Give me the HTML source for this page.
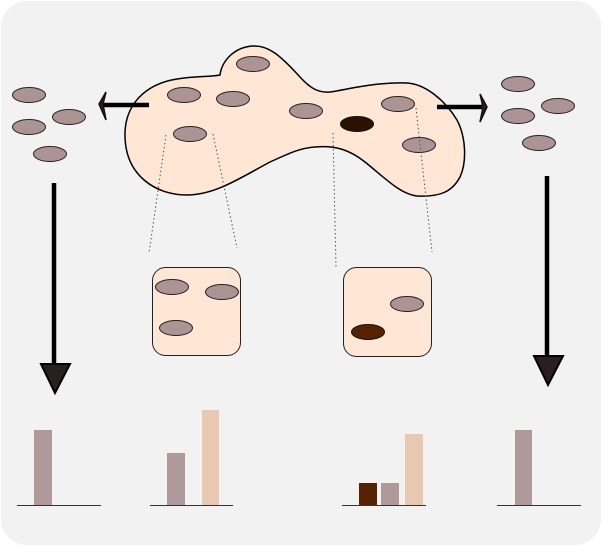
<!DOCTYPE html>
<html><head><meta charset="utf-8"><style>
html,body{margin:0;padding:0;background:#fff;}
svg{display:block;}
</style></head><body>
<svg width="602" height="547" viewBox="0 0 602 547" xmlns="http://www.w3.org/2000/svg">
<rect x="1" y="1" width="600" height="544" rx="26" ry="26" fill="#f2f2f2"/>
<!-- blob -->
<path d="M125,137 C124,105 145,84 177,79 C195,76 210,77 220,75 C222,60 235,47 253,46 C268,45 280,55 300,77 C310,88 318,93 330,92 C350,89 375,82 407,83 C425,84 445,100 457,120 C466,137 467,162 460,177 C452,192 440,197 417,196 C400,194 385,178 365,162 C350,150 335,145 315,147 C300,148 290,153 270,162 C240,178 215,195 187,195 C155,195 126,175 125,137 Z" fill="#ffe6d5" stroke="#000" stroke-width="1.5"/>
<g fill="#ac9494" stroke="#222" stroke-width="1">
<ellipse cx="253" cy="64" rx="16.5" ry="7.5"/>
<ellipse cx="184" cy="95" rx="16.5" ry="7.5"/>
<ellipse cx="233" cy="99" rx="16.5" ry="7.5"/>
<ellipse cx="190" cy="134" rx="16.5" ry="7.5"/>
<ellipse cx="306" cy="111" rx="16.5" ry="7.5"/>
<ellipse cx="398" cy="104" rx="16.5" ry="7.5"/>
<ellipse cx="419" cy="145" rx="16.5" ry="7.5"/>
<ellipse cx="29" cy="95" rx="16.5" ry="7.5"/>
<ellipse cx="69" cy="117" rx="16.5" ry="7.5"/>
<ellipse cx="29" cy="127" rx="16.5" ry="7.5"/>
<ellipse cx="50" cy="154" rx="16.5" ry="7.5"/>
<ellipse cx="518" cy="84" rx="16.5" ry="7.5"/>
<ellipse cx="558" cy="106" rx="16.5" ry="7.5"/>
<ellipse cx="518" cy="116" rx="16.5" ry="7.5"/>
<ellipse cx="539" cy="143" rx="16.5" ry="7.5"/>
</g>
<ellipse cx="357" cy="124" rx="16.5" ry="7.5" fill="#2b1100" stroke="#111" stroke-width="1"/>
<!-- dotted lines -->
<g stroke="#555" stroke-width="1" stroke-dasharray="1.5,2.5" fill="none">
<line x1="166" y1="135" x2="149" y2="253"/>
<line x1="213" y1="134" x2="237" y2="248"/>
<line x1="333" y1="133" x2="336" y2="267"/>
<line x1="416" y1="108" x2="432" y2="252"/>
</g>
<!-- horizontal arrows -->
<line x1="149" y1="105" x2="103" y2="105" stroke="#000" stroke-width="4.5"/>
<path d="M99,104 L106,92 L103,104 L106,120 Z" fill="#2a1f1f" stroke="#111" stroke-width="1.5" stroke-linejoin="miter"/>
<line x1="437" y1="107" x2="482" y2="107" stroke="#000" stroke-width="4.5"/>
<path d="M487,107 L480,94 L483,107 L480,122 Z" fill="#2a1f1f" stroke="#111" stroke-width="1.5"/>
<!-- vertical arrows -->
<line x1="54" y1="183" x2="54" y2="366" stroke="#000" stroke-width="4.5"/>
<path d="M41,364 L70,364 L55,393 Z" fill="#2a1f1f" stroke="#000" stroke-width="2"/>
<line x1="547" y1="176" x2="547" y2="358" stroke="#000" stroke-width="4.5"/>
<path d="M534,356 L563,356 L548,385 Z" fill="#2a1f1f" stroke="#000" stroke-width="2"/>
<!-- boxes -->
<rect x="152.5" y="267.5" width="88" height="88" rx="13" ry="13" fill="#ffe6d5" stroke="#222" stroke-width="1"/>
<rect x="343.5" y="267.5" width="88" height="89" rx="13" ry="13" fill="#ffe6d5" stroke="#222" stroke-width="1"/>
<g fill="#ac9494" stroke="#222" stroke-width="1">
<ellipse cx="172" cy="287" rx="16.5" ry="7.5"/>
<ellipse cx="222" cy="292" rx="16.5" ry="7.5"/>
<ellipse cx="176" cy="328" rx="16.5" ry="7.5"/>
<ellipse cx="407" cy="304" rx="16.5" ry="7.5"/>
</g>
<ellipse cx="368" cy="332" rx="16.5" ry="7.5" fill="#552200" stroke="#111" stroke-width="1"/>
<!-- bar charts -->
<g>
<rect x="34" y="430" width="18" height="75" fill="#b09999"/>
<line x1="17" y1="505.5" x2="101" y2="505.5" stroke="#333" stroke-width="1"/>
<rect x="167" y="453" width="18" height="52" fill="#b09999"/>
<rect x="202" y="410" width="17" height="95" fill="#e8c8b0"/>
<line x1="150" y1="505.5" x2="233" y2="505.5" stroke="#333" stroke-width="1"/>
<rect x="359" y="483" width="18" height="22" fill="#552200"/>
<rect x="381" y="483" width="18" height="22" fill="#b09999"/>
<rect x="405" y="434" width="18" height="71" fill="#e8c8b0"/>
<line x1="342" y1="505.5" x2="426" y2="505.5" stroke="#333" stroke-width="1"/>
<rect x="515" y="430" width="17" height="75" fill="#b09999"/>
<line x1="497" y1="505.5" x2="581" y2="505.5" stroke="#333" stroke-width="1"/>
</g>
</svg>
</body></html>
